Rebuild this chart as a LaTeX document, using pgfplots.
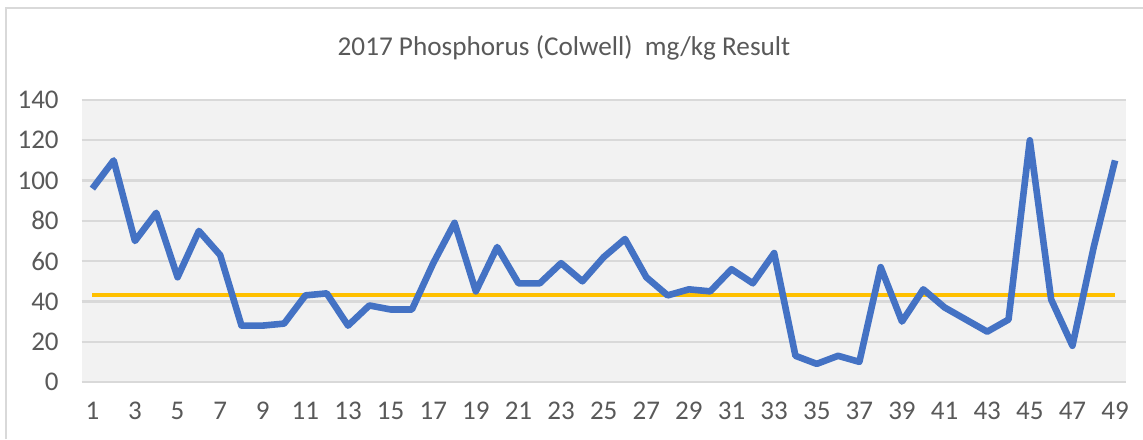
\documentclass[border=0pt]{standalone}
\usepackage{pgfplots}
\pgfplotsset{compat=1.18}
\usepackage{fontspec}
\setmainfont{Carlito}
\definecolor{txtgray}{HTML}{595959}
\definecolor{gridgray}{HTML}{D9D9D9}
\definecolor{plotbg}{HTML}{F2F2F2}
\definecolor{xlblue}{HTML}{4472C4}
\definecolor{xlorange}{HTML}{FFC000}
\begin{document}
\begin{tikzpicture}[x=0.5pt,y=0.5pt]
\useasboundingbox (0,0) rectangle (1143,439);
\draw[gridgray, line width=1.2pt] (6,0) -- (6,431) -- (1143,431);
\node[txtgray, font=\fontsize{13.6}{16}\selectfont] at (564,391) {2017 Phosphorus (Colwell)\ \ mg/kg Result};
\begin{axis}[
  at={(40.85pt,28.5pt)},
  anchor=south west,
  scale only axis,
  width=522pt, height=141pt,
  xmin=0.5, xmax=49.5, ymin=0, ymax=140,
  axis background/.style={fill=plotbg},
  axis line style={draw=none},
  ytick={0,20,...,140},
  xtick={1,3,...,49},
  major tick length=0pt,
  ymajorgrids, grid style={gridgray, line width=1.2pt},
  tick label style={txtgray, font=\fontsize{13.5}{15}\selectfont},
  /pgf/number format/assume math mode=true,
  yticklabel style={xshift=-8pt},
  xticklabel style={yshift=-6.5pt},
  clip=false,
]
\addplot[xlorange, line width=2pt] coordinates {(1,43) (49,43)};
\addplot[xlblue, line width=3.3pt, line join=round] coordinates {
(1,96) (2,110) (3,70) (4,84) (5,52) (6,75) (7,63) (8,28) (9,28) (10,29)
(11,43) (12,44) (13,28) (14,38) (15,36) (16,36) (17,59) (18,79) (19,45) (20,67)
(21,49) (22,49) (23,59) (24,50) (25,62) (26,71) (27,52) (28,43) (29,46) (30,45)
(31,56) (32,49) (33,64) (34,13) (35,9) (36,13) (37,10) (38,57) (39,30) (40,46)
(41,37) (42,31) (43,25) (44,31) (45,120) (46,41) (47,18) (48,67) (49,110)
};
\end{axis}
\end{tikzpicture}
\end{document}
